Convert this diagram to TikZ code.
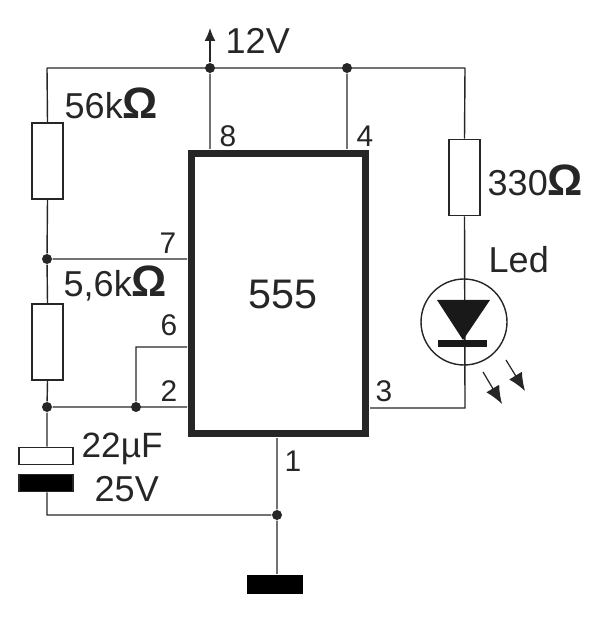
\documentclass[tikz,border=0pt]{standalone}
\usepackage{fontspec}
\setmainfont{Liberation Sans}
\usetikzlibrary{arrows.meta}
\newcommand{\ohmsign}{{\fontsize{25}{25}\selectfont\textbf{Ω}}}
\tikzset{
  res/.style={rectangle, minimum width=0.62cm, minimum height=1.52cm, draw, line width=1pt, inner sep=0pt, fill=white},
  dot/.style={circle, fill=black!85, minimum size=0.2cm, inner sep=0pt},
  plate/.style={rectangle, minimum width=1.08cm, minimum height=0.34cm, inner sep=0pt, draw=black!85, line width=1pt},
  lbl/.style={font=\fontsize{20.5}{22}\selectfont, text=black!85, inner sep=0pt},
  pinlbl/.style={font=\fontsize{17}{19}\selectfont, text=black!85, inner sep=0pt},
  ray/.style={-{Latex[length=0.36cm,width=0.3cm]}, line width=0.7pt}
}
\begin{document}
\begin{tikzpicture}[x=0.02cm, y=-0.02cm, line width=0.8pt, draw=black!85]
    \useasboundingbox (0,0) rectangle (602,617);
    % chip
    \node[rectangle, draw, line width=4pt, minimum width=3.48cm, minimum height=5.6cm, inner sep=0pt]
      (chip) at (278.5,293.5)
      {};
    \node[lbl, font=\fontsize{23.5}{26}\selectfont] (name) at (283,294) {555};

    % junctions
    \node[dot] (vcc) at (210,68) {};
    \node[dot] (rst) at (347,68) {};
    \node[dot] (disc) at (47,259) {};
    \node[dot] (trig) at (47,407) {};
    \node[dot] (thr) at (136,407) {};
    \node[dot] (gnd) at (277,515) {};

    % free corners and pin ends
    \coordinate (tl) at (47,68);
    \coordinate (tr) at (465,68);
    \coordinate (top) at (210,28);
    \coordinate (p8) at (210,149);
    \coordinate (p4) at (347,149);
    \coordinate (p7) at (187,259);
    \coordinate (p6) at (187,347);
    \coordinate (p2) at (187,407);
    \coordinate (p3) at (370,408);
    \coordinate (p1) at (277,438);
    \coordinate (c6) at (136,347);
    \coordinate (c3) at (465,408);
    \coordinate (cb) at (47,515);

    % parts
    \node[res] (r1) at (47.5,161) {};
    \node[res] (r2) at (47.5,342) {};
    \node[res] (r3) at (464.5,177.5) {};
    \node[plate] (capa) at (46,456) {};
    \node[plate, fill=black] (capb) at (46,483) {};
    \node[rectangle, fill=black, minimum width=1.12cm, minimum height=0.38cm, inner sep=0pt] (earth) at (275,584) {};
    \node[circle, draw, minimum size=1.72cm, inner sep=0pt, line width=0.8pt] (led) at (464,322) {};

    % wires
    \draw
      (vcc) -- (p8)
      (rst) -- (p4)
      (tl) -- (tr)
      (tl) -- (r1.north)
      (r1.south) -- (disc)
      (disc) -- (r2.north)
      (r2.south) -- (trig)
      (disc) -- (p7)
      (trig) -- (p2)
      (thr) -- (c6) -- (p6)
      (trig) -- (capa.north -| trig)
      (capb.south -| cb) -- (cb) -- (gnd)
      (p1) -- (gnd)
      (gnd) -- (earth.north -| gnd)
      (tr) -- (r3.north)
      (r3.south) -- (c3) -- (p3)
      ;
    \draw[-{Latex[length=0.26cm,width=0.22cm]}] (vcc) -- (top);

    % led symbol
    \coordinate (ledtip) at (463,340);
    \coordinate (ledl) at (437,300);
    \coordinate (ledr) at (490,300);
    \fill[black!90] (ledl) -- (ledr) -- (ledtip) -- cycle;
    \node[rectangle, fill=black!90, minimum width=0.98cm, minimum height=0.14cm, inner sep=0pt] (ledbar) at (462.5,343.5) {};
    \coordinate (a1) at (483,372);
    \coordinate (a2) at (502,404);
    \coordinate (b1) at (506,360);
    \coordinate (b2) at (525,391);
    \draw[ray] (a1) -- (a2);
    \draw[ray] (b1) -- (b2);

    % labels
    \node[lbl, anchor=west] (l12) at (225,41) {12V};
    \node[lbl, anchor=west] (l56) at (64,103) {56k\ohmsign};
    \node[lbl, anchor=west] (l56b) at (63,283) {5,6k\ohmsign};
    \node[lbl, anchor=west] (l330) at (487,180) {330\ohmsign};
    \node[lbl, anchor=west] (lled) at (488,260) {Led};
    \node[lbl, anchor=west, font=\fontsize{20}{22}\selectfont] (l22) at (81,449) {22µF};
    \node[lbl, anchor=west] (l25) at (94,489) {25V};
    \node[pinlbl] (n8) at (228,136) {8};
    \node[pinlbl] (n4) at (365,136) {4};
    \node[pinlbl] (n7) at (168,243) {7};
    \node[pinlbl] (n6) at (169,325) {6};
    \node[pinlbl] (n2) at (169,391) {2};
    \node[pinlbl] (n3) at (384,391) {3};
    \node[pinlbl] (n1) at (293,461) {1};
  \end{tikzpicture}
\end{document}
